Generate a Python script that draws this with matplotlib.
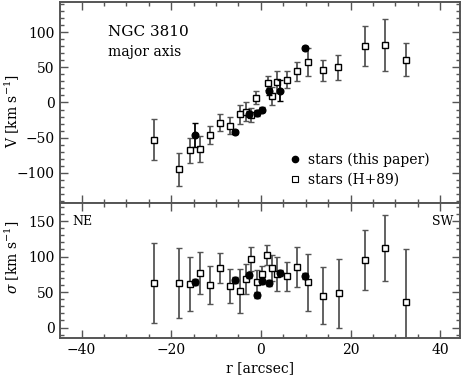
import matplotlib
matplotlib.use("Agg")
import matplotlib.pyplot as plt
from matplotlib.lines import Line2D
from matplotlib.ticker import MultipleLocator

plt.rcParams['font.family'] = ['DejaVu Serif']
plt.rcParams['mathtext.fontset'] = 'dejavuserif'

# ---- data: rotation velocity (top) ----
r_sq_v = [-23.9, -18.2, -15.9, -13.6, -11.4, -9.2, -6.9, -4.6, -3.3, -2.2, -1.1,
          1.5, 2.4, 3.7, 5.9, 8.1, 10.5, 13.9, 17.3, 23.2, 27.7, 32.3]
v_sq = [-53, -95, -68, -66, -46, -29, -33, -17, -13, -18, 7,
        28, 9, 29, 32, 44, 58, 46, 50, 80, 81, 61]
v_sq_err = [29, 24, 18, 18, 13, 12, 12, 13, 13, 10, 9,
            10, 13, 15, 12, 14, 20, 15, 18, 28, 37, 23]

r_ci = [-14.6, -5.8, -2.6, -0.9, 0.2, 1.7, 4.2, 9.8]
v_ci = [-46, -42, -16, -15, -10, 16, 17, 77]
v_ci_err = [17, 3, 4, 4, 4, 5, 15, 3]

# ---- data: velocity dispersion (bottom) ----
r_sq_s = [-23.9, -18.2, -15.9, -13.6, -11.4, -9.1, -6.8, -4.6, -3.4, -2.1, -0.9,
          0.2, 1.4, 2.4, 3.6, 5.9, 8.1, 10.5, 13.9, 17.4, 23.2, 27.7, 32.3]
s_sq = [63, 63, 61, 77, 60, 84, 59, 51, 68, 96, 64,
        75, 102, 84, 76, 72, 85, 64, 45, 48, 95, 112, 36]
s_sq_err = [56, 49, 38, 30, 27, 21, 24, 31, 21, 17, 17,
            12, 14, 18, 24, 21, 28, 40, 40, 48, 42, 47, 74]

s_ci = [64, 67, 74, 46, 66, 63, 77, 73]
s_ci_err = [4, 4, 4, 4, 4, 4, 4, 4]

W, H = 463, 379
fig = plt.figure(figsize=(W / 100, H / 100), dpi=100)
L, R = 60 / W, 460 / W
ax1 = fig.add_axes([L, 1 - 203.3 / H, R - L, (203.3 - 1.7) / H])
ax2 = fig.add_axes([L, 1 - 337.5 / H, R - L, (337.5 - 203.3) / H])

spine_c = '#555555'
bar_c = '#555555'
fs = 10

for ax in (ax1, ax2):
    ax.set_xlim(-44.8, 44.4)
    ax.xaxis.set_major_locator(MultipleLocator(20))
    ax.xaxis.set_minor_locator(MultipleLocator(5))
    ax.yaxis.set_major_locator(MultipleLocator(50))
    ax.yaxis.set_minor_locator(MultipleLocator(10))
    ax.tick_params(which='both', direction='in', top=True, right=True,
                   color=spine_c, width=1.0, labelsize=fs, pad=4)
    ax.tick_params(which='major', length=6)
    ax.tick_params(which='minor', length=3)
    for s in ax.spines.values():
        s.set_color(spine_c)
        s.set_linewidth(1.4)

ax1.set_ylim(-143, 143)
ax2.set_ylim(-14, 175)
ax1.tick_params(labelbottom=False)

# top panel
ax1.errorbar(r_sq_v, v_sq, yerr=v_sq_err, fmt='s', ms=4.8, mfc='white', mec='black',
             mew=1.0, ecolor=bar_c, elinewidth=1.3, capsize=2.3, capthick=1.0, zorder=3)
ax1.errorbar(r_ci, v_ci, yerr=v_ci_err, fmt='o', ms=4.8, mfc='black', mec='black',
             ecolor='black', elinewidth=1.3, capsize=2.3, capthick=1.0, zorder=4)

# bottom panel
ax2.errorbar(r_sq_s, s_sq, yerr=s_sq_err, fmt='s', ms=4.8, mfc='white', mec='black',
             mew=1.0, ecolor=bar_c, elinewidth=1.3, capsize=2.3, capthick=1.0, zorder=3)
ax2.errorbar(r_ci, s_ci, yerr=s_ci_err, fmt='o', ms=4.8, mfc='black', mec='black',
             ecolor='black', elinewidth=1.3, capsize=2.3, capthick=1.0, zorder=4)

ax1.text(0.12, 0.85, 'NGC 3810', transform=ax1.transAxes, fontsize=fs + 1,
         va='center', ha='left')
ax1.text(0.12, 0.75, 'major axis', transform=ax1.transAxes, fontsize=fs,
         va='center', ha='left')

handles = [Line2D([], [], marker='o', ls='none', ms=4.5, mfc='black', mec='black'),
           Line2D([], [], marker='s', ls='none', ms=4.5, mfc='white', mec='black', mew=0.8)]
ax1.legend(handles, ['stars (this paper)', 'stars (H+89)'], loc='upper left',
           frameon=False, fontsize=fs, handlelength=0.8, handletextpad=0.5,
           labelspacing=0.4, borderaxespad=0, borderpad=0,
           bbox_to_anchor=(0.574, 0.25))

ax2.text(0.03, 0.863, 'NE', transform=ax2.transAxes, fontsize=fs - 1, va='center')
ax2.text(0.93, 0.863, 'SW', transform=ax2.transAxes, fontsize=fs - 1, va='center')

ax1.set_ylabel(r'V [km s$^{-1}$]', fontsize=fs)
ax2.set_ylabel(r'$\sigma$ [km s$^{-1}$]', fontsize=fs)
ax1.yaxis.set_label_coords(-0.095, 0.46)
ax2.yaxis.set_label_coords(-0.095, 0.6)
ax2.set_xlabel('r [arcsec]', fontsize=fs, labelpad=3)

fig.savefig('out.png', dpi=100)
